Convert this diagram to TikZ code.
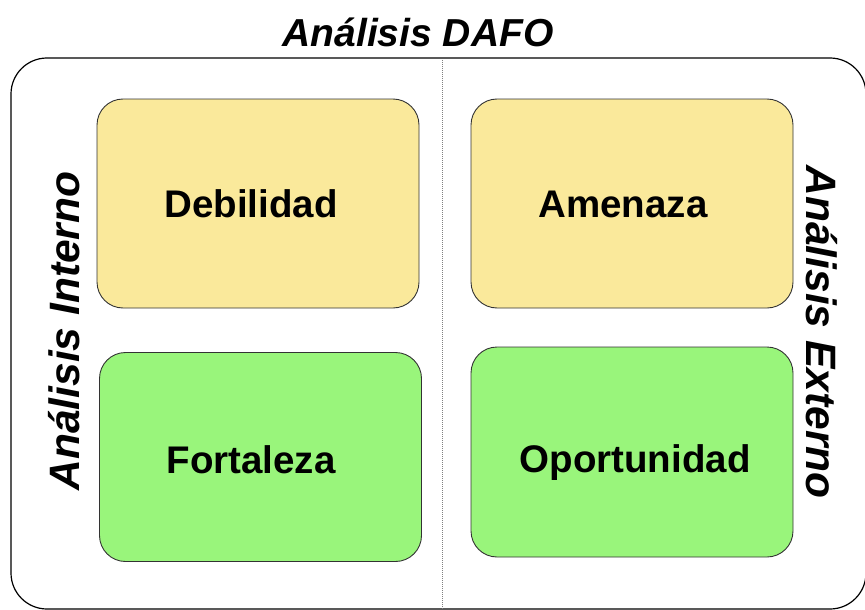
\documentclass[tikz,border=0pt]{standalone}
\usepackage{fontspec}
\setmainfont{Liberation Sans}
\usepackage{tikz}

\definecolor{dafoyellow}{RGB}{250,233,155}
\definecolor{dafogreen}{RGB}{153,245,123}

\begin{document}
\begin{tikzpicture}[x=1pt, y=-1pt,
  every node/.style = {align=center, inner sep=0pt},
  quad/.style = {shape=rectangle, draw=black!80, line width=0.9pt,
    rounded corners=26pt, minimum width=322pt, minimum height=209pt},
  word/.style = {anchor=base, font=\fontsize{38.5}{40}\selectfont\bfseries},
  side/.style = {font=\fontsize{42.5}{44}\selectfont\bfseries\itshape}]
  \useasboundingbox (0,0) rectangle (865,610);
  \begin{scope}
    \clip (0,0) rectangle (865,610);
    \draw[line width=1.2pt, rounded corners=36pt] (11,58) rectangle (866,609);
    \draw[gray, line width=0.8pt, dash pattern=on 1pt off 1pt] (442,60) -- (442,610);
  \end{scope}
  \node[font=\fontsize{39}{42}\selectfont\bfseries\itshape] (title) at (418,32) {Análisis DAFO};
  % the four quadrants
  \node[quad, fill=dafoyellow] (debil) at (258,203.5) {};
  \node[quad, fill=dafoyellow] (amen) at (632,203.5) {};
  \node[quad, fill=dafogreen] (fort) at (260.5,457) {};
  \node[quad, fill=dafogreen, minimum height=210pt] (oport) at (632,452) {};
  \node[word] (debiltxt) at (251,217) {Debilidad};
  \node[word] (amentxt) at (623,217) {Amenaza};
  \node[word] (forttxt) at (251,473) {Fortaleza};
  \node[word] (oporttxt) at (635,472) {Oportunidad};
  % side labels
  \node[side, rotate=90] (interno) at (64,331) {Análisis Interno};
  \node[side, rotate=-90] (externo) at (822,332) {Análisis Externo};
\end{tikzpicture}
\end{document}
